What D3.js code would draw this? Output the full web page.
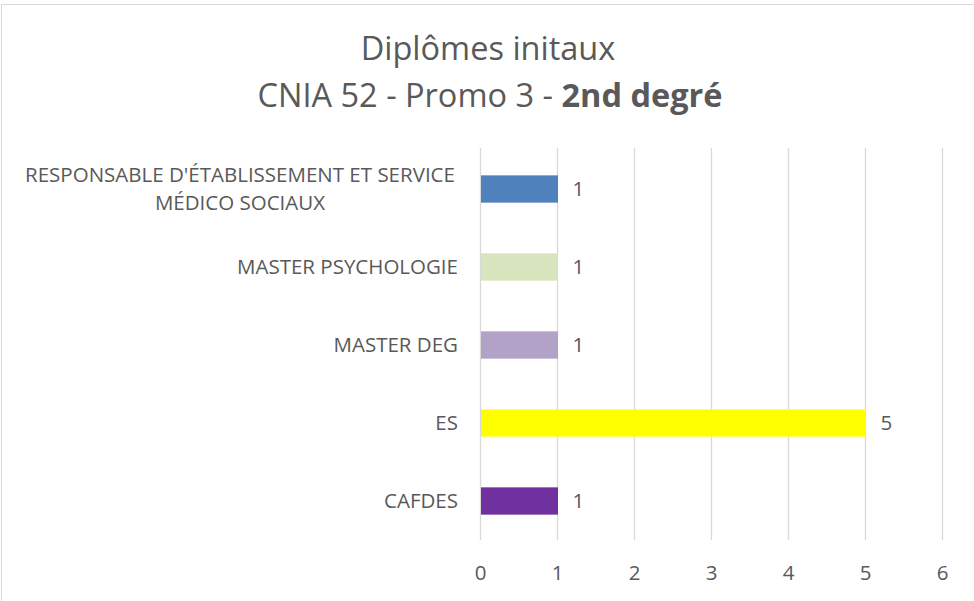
<!DOCTYPE html>
<html>
<head>
<meta charset="utf-8">
<script src="https://cdn.jsdelivr.net/npm/d3@7"></script>
<style>
  body { margin: 0; background: #fff; }
  svg text { font-family: "Open Sans", sans-serif; fill: #595959; }
</style>
</head>
<body>
<div id="chart"></div>
<script>
// data, top to bottom as shown
var categories = ["RESPONSABLE D'ÉTABLISSEMENT ET SERVICE|MÉDICO SOCIAUX", "MASTER PSYCHOLOGIE", "MASTER DEG", "ES", "CAFDES"];
var values = [1, 1, 1, 5, 1];
var colors = ["#4F81BD", "#D7E4BD", "#B3A2C7", "#FFFF00", "#7030A0"];
var xTicks = [0, 1, 2, 3, 4, 5, 6];

var W = 974, H = 601;
var m = {left: 480.5, right: 32, top: 150, bottom: 61};
var fs = "20.5px";

var svg = d3.select("#chart").append("svg")
  .attr("width", W).attr("height", H);

// chart frame
svg.append("rect")
  .attr("x", 1.5).attr("y", 4.5).attr("width", W + 5).attr("height", H + 5)
  .style("fill", "none").style("stroke", "#d9d9d9");

var x = d3.scaleLinear().domain([0, 6]).range([m.left, m.left + 77 * 6]);
var y = d3.scaleBand().domain(d3.range(categories.length))
  .range([m.top, H - m.bottom]).paddingInner(0.65).paddingOuter(0.325);

// gridlines
svg.selectAll(".grid").data(xTicks).enter().append("line")
  .attr("x1", function(d) { return x(d); }).attr("x2", function(d) { return x(d); })
  .attr("y1", m.top - 2).attr("y2", H - m.bottom)
  .style("stroke", "#d9d9d9").style("stroke-width", 1.3);

// bars
svg.selectAll(".bar").data(values).enter().append("rect")
  .attr("x", x(0) + 0.5)
  .attr("y", function(d, i) { return y(i); })
  .attr("width", function(d) { return x(d) - x(0); })
  .attr("height", y.bandwidth())
  .style("fill", function(d, i) { return colors[i]; });

// value labels
svg.selectAll(".val").data(values).enter().append("text")
  .attr("x", function(d) { return x(d) + 15; })
  .attr("y", function(d, i) { return y(i) + y.bandwidth() / 2; })
  .attr("dy", "0.35em")
  .style("font-size", fs)
  .text(function(d) { return d; });

// category labels (wrapped ones centred, single lines right aligned)
categories.forEach(function(c, i) {
  var lines = c.split("|");
  var cy = y(i) + y.bandwidth() / 2;
  var t = svg.append("text")
    .attr("text-anchor", lines.length > 1 ? "middle" : "end")
    .style("font-size", fs);
  lines.forEach(function(l, j) {
    t.append("tspan")
      .attr("x", lines.length > 1 ? 240 : 458)
      .attr("y", cy + (j - (lines.length - 1) / 2) * 28.5)
      .attr("dy", "0.35em")
      .text(l);
  });
});

// x tick labels
svg.selectAll(".tick").data(xTicks).enter().append("text")
  .attr("x", function(d) { return x(d); })
  .attr("y", 573)
  .attr("dy", "0.35em")
  .attr("text-anchor", "middle")
  .style("font-size", fs)
  .text(function(d) { return d; });

// title
svg.append("text").attr("text-anchor", "middle").style("font-size", "32.5px")
  .attr("x", 488).attr("y", 60).text("Diplômes initaux");
var t2 = svg.append("text").attr("text-anchor", "middle").style("font-size", "32.5px")
  .attr("x", 490).attr("y", 107);
t2.append("tspan").text("CNIA 52 - Promo 3 - ");
t2.append("tspan").style("font-weight", "bold").text("2nd degré");
</script>
</body>
</html>
